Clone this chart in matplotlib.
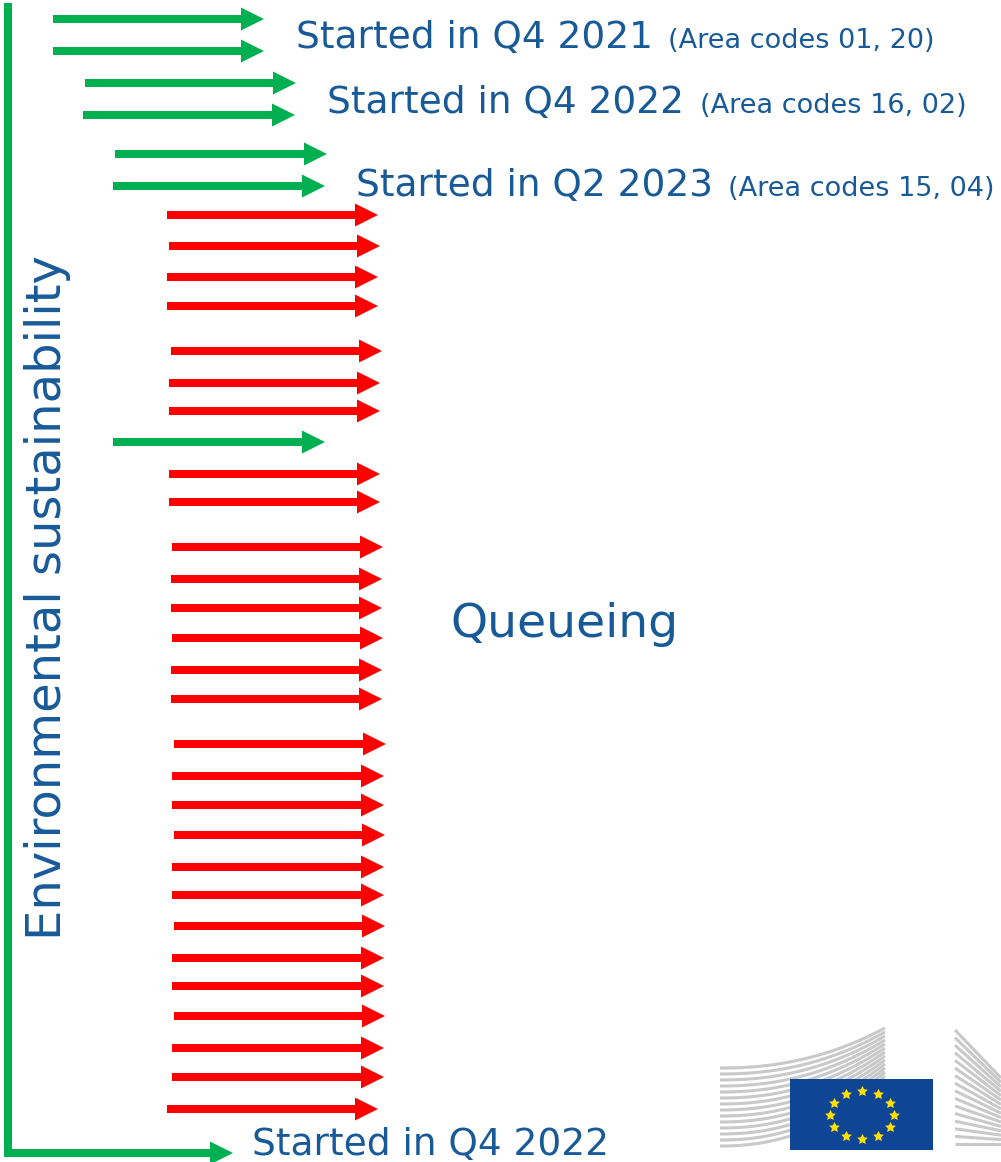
import numpy as np
import matplotlib
matplotlib.use("Agg")
import matplotlib.pyplot as plt
from matplotlib.patches import Rectangle

# ---- data (pixel-space layout of the diagram) ----
green_y = [19, 51, 83, 115, 154, 186, 442]
green_x0 = [53, 53, 85, 83, 115, 113, 113]
green_x1 = [264, 264, 296, 295, 327, 325, 325]

red_y = [215, 246, 277, 306, 351, 383, 411, 474, 502, 547, 579, 608, 638, 670,
         699, 744, 776, 805, 835, 867, 895, 926, 958, 986, 1016, 1048, 1077, 1109]
red_x0 = [167, 169, 167, 167, 171, 169, 169, 169, 169, 172, 171, 171, 172, 171,
          171, 174, 172, 172, 174, 172, 172, 174, 172, 172, 174, 172, 172, 167]
red_x1 = [378, 380, 378, 378, 382, 380, 380, 380, 380, 383, 382, 382, 383, 382,
          382, 386, 384, 384, 385, 384, 384, 385, 384, 384, 385, 384, 384, 378]

main_labels = ["Started in Q4 2021", "Started in Q4 2022", "Started in Q2 2023"]
sub_labels = ["(Area codes 01, 20)", "(Area codes 16, 02)", "(Area codes 15, 04)"]
label_x = [296, 327, 356]
sub_x = [668, 700, 728]
label_base = [48, 113, 196]

GREEN = "#00B050"
RED = "#FF0000"
BLUE = "#185A98"

W, H = 1001, 1162
fig = plt.figure(figsize=(W / 100, H / 100), dpi=100)
ax = fig.add_axes([0, 0, 1, 1])
ax.set_xlim(0, W)
ax.set_ylim(H, 0)
ax.axis("off")

SHAFT, HEADW, HEADL = 8, 23, 23

def arrow(x0, x1, y, c):
    ax.arrow(x0, y, x1 - x0, 0, width=SHAFT, head_width=HEADW, head_length=HEADL,
             length_includes_head=True, color=c, linewidth=0)

for x0, x1, y in zip(green_x0, green_x1, green_y):
    arrow(x0, x1, y, GREEN)
for x0, x1, y in zip(red_x0, red_x1, red_y):
    arrow(x0, x1, y, RED)

# L-shaped timeline arrow
ax.add_patch(Rectangle((4, 3), 8, 1154, color=GREEN, linewidth=0))
arrow(4, 233, 1153, GREEN)

# texts
for t, s, x, xs, yb in zip(main_labels, sub_labels, label_x, sub_x, label_base):
    ax.text(x, yb, t, fontsize=27, color=BLUE, va="baseline", ha="left",
            family="DejaVu Sans")
    ax.text(xs, yb, s, fontsize=19.5, color=BLUE, va="baseline", ha="left",
            family="DejaVu Sans")

ax.text(450, 637, "Queueing", fontsize=34, color=BLUE, va="baseline", ha="left")
ax.text(252, 1155, "Started in Q4 2022", fontsize=27, color=BLUE, va="baseline",
        ha="left")
ax.text(61, 598, "Environmental sustainability", fontsize=34.6, color=BLUE,
        rotation=90, rotation_mode="anchor", ha="center", va="baseline")

# ---- EC logo (decoration) ----
GRAY = "#C9C9C9"
t = np.linspace(0, 1, 60)
for i in range(14):
    yl = 1068 + 6 * i
    yr = 1028 + 4 * i
    xs_ = 720 + 165 * t
    ys_ = yl - (yl - yr) * t ** 2.2
    ax.plot(xs_, ys_, color=GRAY, lw=2.2, solid_capstyle="butt")
for i in range(16):
    yl = 1030 + 7.6 * i
    drop = 48 * (1 - i / 15)
    xs_ = np.array([955, 1001])
    ax.plot(xs_, [yl, yl + drop], color=GRAY, lw=2.2, solid_capstyle="butt")

ax.add_patch(Rectangle((790, 1079), 143, 71, color="#0E4595", linewidth=0, zorder=5))
ang = np.linspace(0, 2 * np.pi, 13)[:-1]
ax.scatter(862 + 32 * np.cos(ang), 1115 + 24 * np.sin(ang), marker=(5, 1, 0), s=65,
           color="#FFE000", linewidths=0, zorder=6)

fig.savefig("out.png", dpi=100, facecolor="white")
